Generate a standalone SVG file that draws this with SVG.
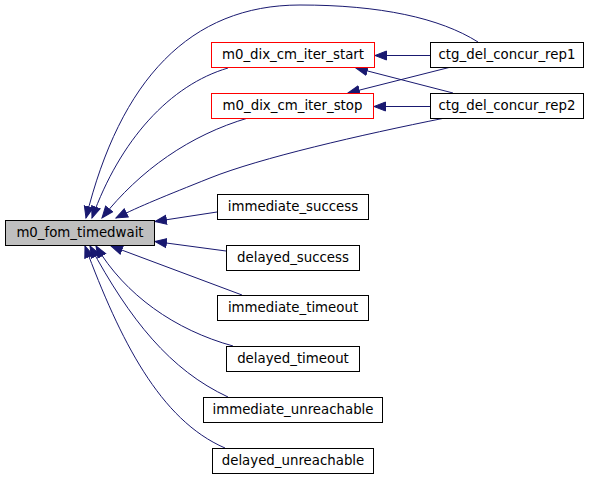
<svg xmlns="http://www.w3.org/2000/svg" width="591" height="479" viewBox="0 0 591 479">
<style>
.n rect{fill:#ffffff;stroke:#000000;stroke-width:1}
.n.r rect{stroke:#ff0000}
.n.m rect{fill:#bfbfbf}
.n text{font-family:"DejaVu Sans",sans-serif;font-size:13.33px;text-anchor:middle;fill:#000000}
.e path{fill:none;stroke:#191970;stroke-width:1;marker-end:url(#ah)}
</style>
<defs>
<marker id="ah" markerUnits="userSpaceOnUse" markerWidth="14" markerHeight="12" refX="12" refY="5" orient="auto" viewBox="0 0 14 10">
<path d="M0.5,0.5 L12,5 L0.5,9.5 z" fill="#191970" stroke="#191970" stroke-width="1"/>
</marker>
</defs>
<rect width="591" height="479" fill="#ffffff"/>
<g id="edges" class="e">
<path d="M430,55.5 L375,55.5"/>
<path d="M430,106.5 L374,106.5"/>
<path d="M453,93 L356,68"/>
<path d="M451,67 L348,93"/>
<path d="M478,42 C440,18 380,5 300,5 C190,5 120,80 86,218"/>
<path d="M228,68 C170,85 120,140 92,218"/>
<path d="M248,118 C190,135 140,170 102,218"/>
<path d="M445,118 C360,135 260,158 210,178 C165,196 140,206 116,218"/>
<path d="M217,212 L155,221.5"/>
<path d="M226,251 L155,241.5"/>
<path d="M242,295 L111,246"/>
<path d="M233,346 C175,330 125,295 96,246"/>
<path d="M228,397 C170,370 130,320 90,246"/>
<path d="M225,448 C160,420 120,340 85,246"/>
</g>
<g id="m0_fom_timedwait" class="n m"><rect x="5.5" y="220.5" width="149" height="25"/><text x="80" y="237">m0_fom_timedwait</text></g>
<g id="m0_dix_cm_iter_start" class="n r"><rect x="211.5" y="42.5" width="163" height="25"/><text x="293" y="59">m0_dix_cm_iter_start</text></g>
<g id="m0_dix_cm_iter_stop" class="n r"><rect x="211.5" y="93.5" width="162" height="25"/><text x="292.5" y="110">m0_dix_cm_iter_stop</text></g>
<g id="ctg_del_concur_rep1" class="n"><rect x="430.5" y="42.5" width="153" height="25"/><text x="507" y="59">ctg_del_concur_rep1</text></g>
<g id="ctg_del_concur_rep2" class="n"><rect x="430.5" y="93.5" width="153" height="25"/><text x="507" y="110">ctg_del_concur_rep2</text></g>
<g id="immediate_success" class="n"><rect x="217.5" y="194.5" width="151" height="25"/><text x="293" y="211">immediate_success</text></g>
<g id="delayed_success" class="n"><rect x="226.5" y="245.5" width="133" height="25"/><text x="293" y="262">delayed_success</text></g>
<g id="immediate_timeout" class="n"><rect x="217.5" y="295.5" width="151" height="25"/><text x="293" y="312">immediate_timeout</text></g>
<g id="delayed_timeout" class="n"><rect x="226.5" y="346.5" width="133" height="25"/><text x="293" y="363">delayed_timeout</text></g>
<g id="immediate_unreachable" class="n"><rect x="203.5" y="397.5" width="179" height="25"/><text x="293" y="414">immediate_unreachable</text></g>
<g id="delayed_unreachable" class="n"><rect x="212.5" y="448.5" width="161" height="25"/><text x="293" y="465">delayed_unreachable</text></g>
</svg>
